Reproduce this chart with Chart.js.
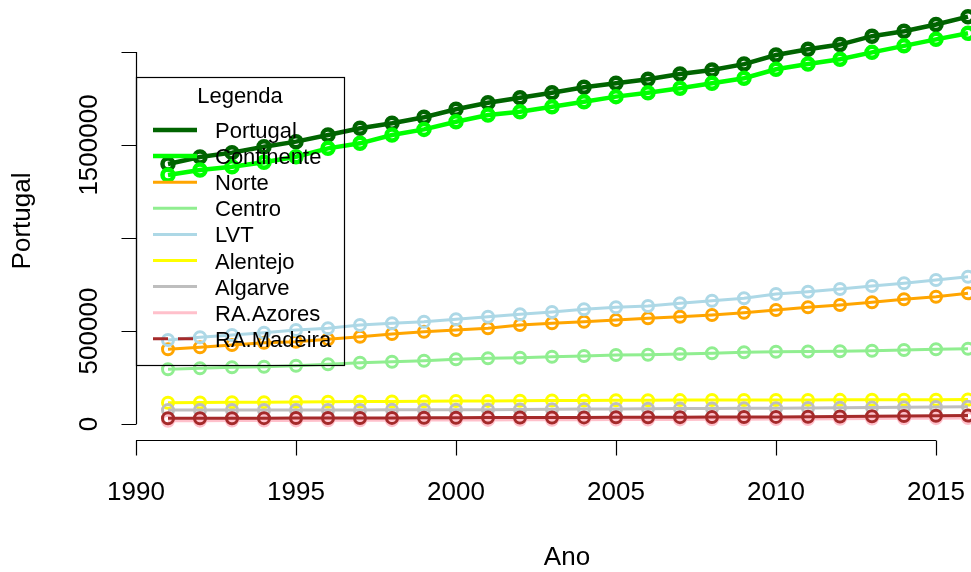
<!DOCTYPE html>
<html>
<head>
<meta charset="utf-8">
<script src="https://cdn.jsdelivr.net/npm/chart.js@4/dist/chart.umd.min.js"></script>
<style>
  html, body { margin: 0; padding: 0; background: #ffffff; }
  canvas { display: block; }
</style>
</head>
<body>
<canvas id="c" width="971" height="572"></canvas>
<script>
// ---------------- DATA ----------------
const years = [1991, 1992, 1993, 1994, 1995, 1996, 1997, 1998, 1999, 2000, 2001, 2002, 2003,
               2004, 2005, 2006, 2007, 2008, 2009, 2010, 2011, 2012, 2013, 2014, 2015, 2016];

const seriesNames = ["Portugal", "Continente", "Norte", "Centro", "LVT", "Alentejo", "Algarve", "RA.Azores", "RA.Madeira"];

const portugal   = [1398000, 1435000, 1459000, 1491000, 1518000, 1554000, 1590000, 1617000, 1649000, 1692000, 1727000, 1754000, 1781000,
                    1810000, 1832000, 1853000, 1882000, 1903000, 1935000, 1984000, 2015000, 2040000, 2085000, 2112000, 2148000, 2190000];
const continente = [1339000, 1366000, 1383000, 1407000, 1437000, 1482000, 1509000, 1554000, 1584000, 1625000, 1661000, 1679000, 1706000,
                    1733000, 1760000, 1781000, 1805000, 1832000, 1859000, 1907000, 1935000, 1961000, 1998000, 2033000, 2068000, 2101000];
const norte      = [401600, 412400, 424700, 437100, 442500, 455400, 469400, 483900, 496200, 505400, 514500, 532300, 541400,
                    550000, 559100, 568300, 576900, 586000, 598400, 612900, 627400, 639800, 654300, 670400, 684400, 702700];
const centro     = [294100, 299500, 304800, 308100, 313400, 321000, 329600, 334900, 340300, 347800, 353200, 356500, 361800,
                    365600, 371000, 372000, 376300, 380100, 385500, 388700, 390000, 391000, 394100, 397800, 401600, 404800];
const lvt        = [451600, 466100, 478500, 490900, 505400, 514500, 532300, 541400, 550000, 562900, 576900, 589800, 602200,
                    616700, 627400, 634400, 648900, 662900, 675800, 698900, 711300, 725800, 741900, 756500, 774200, 791900];
const alentejo   = [114500, 115400, 116800, 117500, 118700, 119400, 120600, 121300, 122600, 123700, 124300, 125200, 126100,
                    126700, 127500, 127900, 128600, 128900, 129200, 129400, 129700, 129900, 130200, 130600, 131000, 131500];
const algarve    = [74800, 75000, 75100, 75300, 75500, 75600, 75800, 76100, 76300, 76600, 77200, 78100, 79000,
                    80100, 81000, 82100, 82900, 83500, 84200, 85100, 86200, 87100, 88300, 89600, 91000, 92600];
const azores     = [17700, 18100, 18600, 18900, 19400, 19700, 20200, 20600, 21000, 21500, 22000, 22400, 22900,
                    23300, 23600, 24100, 24600, 25100, 25600, 26300, 27100, 28000, 29200, 30300, 31500, 32600];
const madeira    = [30600, 30900, 31300, 31500, 31900, 32100, 32500, 32800, 33300, 33900, 34300, 34800, 35100,
                    35500, 35900, 36400, 36700, 37200, 37600, 38300, 39200, 40300, 41600, 42900, 44200, 45400];

const xTicks = [1990, 1995, 2000, 2005, 2010, 2015];
const xTickLabels = ["1990", "1995", "2000", "2005", "2010", "2015"];
const yTicks = [0, 500000, 1000000, 1500000, 2000000];
const yTickLabels = ["0", "500000", null, "1500000", null];

const xTitle = "Ano";
const yTitle = "Portugal";
const legendTitle = "Legenda";

// ---------------- STYLE ----------------
const seriesValues = [portugal, continente, norte, centro, lvt, alentejo, algarve, azores, madeira];
const seriesColors = ["#006400", "#00FF00", "#FFA500", "#90EE90", "#ADD8E6", "#FFFF00", "#BEBEBE", "#FFC0CB", "#A52A2A"];
const seriesWidths = [4.5, 4.5, 3, 3, 3, 3, 3, 3, 3];
const legendDashes = [[], [], [], [], [], [], [], [], [15, 10]];

const FONT = '"Liberation Sans", Arial, Helvetica, sans-serif';

const datasets = seriesNames.map((name, i) => ({
  label: name,
  data: years.map((yr, j) => ({ x: yr, y: seriesValues[i][j] })),
  borderColor: seriesColors[i],
  backgroundColor: 'transparent',
  borderWidth: seriesWidths[i],
  pointRadius: 5.5,
  pointBorderWidth: seriesWidths[i],
  pointBorderColor: seriesColors[i],
  pointBackgroundColor: 'rgba(0,0,0,0)',
  pointStyle: 'circle',
  fill: false,
  tension: 0,
  clip: false,
  order: seriesNames.length - 1 - i,
  legendDash: legendDashes[i]
}));

// R-style axes drawn from the chart's own scales
const rAxes = {
  id: 'rAxes',
  beforeDatasetsDraw(chart) {
    const ctx = chart.ctx;
    const xs = chart.scales.x, ys = chart.scales.y;
    const area = chart.chartArea;
    ctx.save();
    ctx.strokeStyle = '#000';
    ctx.fillStyle = '#000';
    ctx.lineWidth = 1.2;
    ctx.font = '26px ' + FONT;

    // x axis
    const yAx = Math.round(area.bottom) + 0.5;
    const xa = xs.getPixelForValue(xTicks[0]);
    const xb = xs.getPixelForValue(xTicks[xTicks.length - 1]);
    ctx.beginPath();
    ctx.moveTo(xa, yAx); ctx.lineTo(xb, yAx);
    xTicks.forEach(v => {
      const px = Math.round(xs.getPixelForValue(v)) + 0.5;
      ctx.moveTo(px, yAx); ctx.lineTo(px, yAx + 15);
    });
    ctx.stroke();
    ctx.textAlign = 'center';
    ctx.textBaseline = 'alphabetic';
    xTicks.forEach((v, i) => {
      ctx.fillText(xTickLabels[i], xs.getPixelForValue(v), 500);
    });

    // y axis
    const xAx = Math.round(area.left) + 0.5;
    const ya = ys.getPixelForValue(yTicks[0]);
    const yb = ys.getPixelForValue(yTicks[yTicks.length - 1]);
    ctx.beginPath();
    ctx.moveTo(xAx, ya); ctx.lineTo(xAx, yb);
    yTicks.forEach(v => {
      const py = Math.round(ys.getPixelForValue(v)) + 0.5;
      ctx.moveTo(xAx - 15, py); ctx.lineTo(xAx, py);
    });
    ctx.stroke();
    yTicks.forEach((v, i) => {
      if (!yTickLabels[i]) return;
      ctx.save();
      ctx.translate(97, ys.getPixelForValue(v));
      ctx.rotate(-Math.PI / 2);
      ctx.textAlign = 'center';
      ctx.fillText(yTickLabels[i], 0, 0);
      ctx.restore();
    });

    // axis titles
    ctx.textAlign = 'center';
    ctx.fillText(xTitle, 567, 565);
    ctx.save();
    ctx.translate(30, 221);
    ctx.rotate(-Math.PI / 2);
    ctx.fillText(yTitle, 0, 0);
    ctx.restore();
    ctx.restore();
  }
};

// R-style boxed legend (transparent background) drawn after the lines
const rLegend = {
  id: 'rLegend',
  afterDatasetsDraw(chart) {
    const ctx = chart.ctx;
    const left = 136, top = 77, w = 208, h = 288;
    ctx.save();
    ctx.strokeStyle = '#000';
    ctx.lineWidth = 1.2;
    ctx.strokeRect(left + 0.5, top + 0.5, w, h);
    ctx.fillStyle = '#000';
    ctx.font = '22px ' + FONT;
    ctx.textAlign = 'center';
    ctx.textBaseline = 'alphabetic';
    ctx.fillText(legendTitle, left + w / 2, 103);
    ctx.textAlign = 'left';
    chart.data.datasets.forEach((ds, i) => {
      const cy = 130 + 26.1 * i;
      ctx.beginPath();
      ctx.strokeStyle = ds.borderColor;
      ctx.lineWidth = ds.borderWidth;
      ctx.setLineDash(ds.legendDash || []);
      ctx.moveTo(153, cy); ctx.lineTo(197, cy);
      ctx.stroke();
      ctx.setLineDash([]);
      ctx.fillStyle = '#000';
      ctx.fillText(ds.label, 215, cy + 8);
    });
    ctx.restore();
  }
};

new Chart(document.getElementById('c'), {
  type: 'line',
  data: { datasets },
  options: {
    responsive: false,
    animation: false,
    devicePixelRatio: 1,
    layout: { autoPadding: false, padding: { left: 136, top: 0, right: 0, bottom: 132 } },
    scales: {
      x: { type: 'linear', min: 1990, max: 2016.09375, display: false },
      y: { type: 'linear', min: -86021.5, max: 2279570, display: false }
    },
    plugins: {
      legend: { display: false },
      tooltip: { enabled: false }
    }
  },
  plugins: [rAxes, rLegend]
});
</script>
</body>
</html>
